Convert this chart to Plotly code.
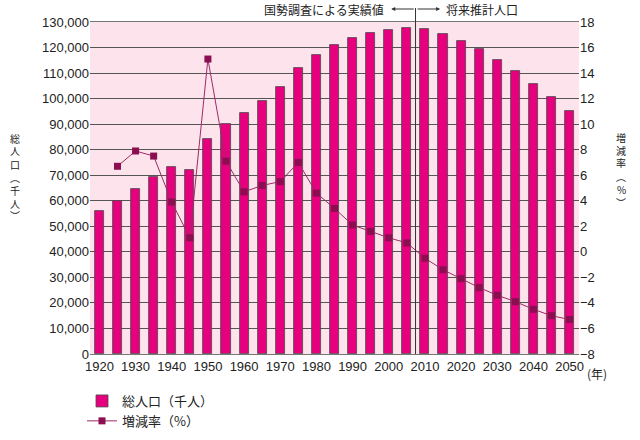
import plotly.graph_objects as go

years = [1920, 1925, 1930, 1935, 1940, 1945, 1950, 1955, 1960, 1965, 1970, 1975, 1980,
         1985, 1990, 1995, 2000, 2005, 2010, 2015, 2020, 2025, 2030, 2035, 2040, 2045, 2050]
population = [55963, 59737, 64450, 69254, 73114, 71998, 84115, 90077, 94302, 99209, 104665,
              111940, 117060, 121049, 123611, 125570, 126926, 127768, 127176, 125430, 122735,
              119270, 115224, 110679, 105695, 100443, 95152]
rate_years = years[1:]
rate = [6.7, 7.9, 7.5, 3.9, 1.1, 15.1, 7.1, 4.7, 5.2, 5.5, 7.0, 4.6, 3.4, 2.1, 1.6, 1.1, 0.7,
        -0.5, -1.4, -2.1, -2.8, -3.4, -3.9, -4.5, -5.0, -5.3]
x_ticks = list(range(1920, 2051, 10))

FONT = "Liberation Sans, Arial, Noto Sans CJK JP, sans-serif"
JP = "Noto Sans CJK JP, sans-serif"

W, H = 640, 440
PL, PR, PT, PB = 90, 579, 22, 354  # plot area in page pixels

fig = go.Figure()
fig.add_trace(go.Bar(
    x=years, y=population, name="総人口（千人）", width=2.5,
    marker=dict(color="#E6007E", line=dict(color="#4a4a4a", width=0.8)),
))
fig.add_trace(go.Scatter(
    x=rate_years, y=rate, name="増減率（%）", yaxis="y2", mode="lines+markers",
    line=dict(color="#9E2A66", width=1),
    marker=dict(symbol="square", size=7, color="#8C0E50"),
))

fig.update_layout(
    width=W, height=H,
    margin=dict(l=PL, r=W - PR, t=PT, b=H - PB, autoexpand=False),
    paper_bgcolor="white", plot_bgcolor="#FCE3EC",
    font=dict(family=FONT, size=13, color="#222"),
    bargap=0,
    xaxis=dict(range=[1917.4, 2052.6], tickvals=x_ticks, showgrid=False,
               showline=True, linecolor="#777", linewidth=1, mirror=True,
               ticks="", tickfont=dict(size=13), zeroline=False),
    yaxis=dict(range=[0, 130000], dtick=10000, tickformat=",", showgrid=True,
               gridcolor="#555", gridwidth=1, zeroline=False, showline=False,
               ticks="", tickfont=dict(size=13)),
    yaxis2=dict(range=[-8, 18], dtick=2, overlaying="y", side="right", showgrid=False,
                zeroline=False, ticks="", tickfont=dict(size=13)),
    legend=dict(xref="container", yref="container", x=82 / W, y=1 - 386 / H,
                xanchor="left", yanchor="top", orientation="v",
                font=dict(family=JP, size=13), bgcolor="rgba(0,0,0,0)", tracegroupgap=2),
    showlegend=True,
)


def px(x):
    return (x - PL) / (PR - PL)


def py(y):
    return (PB - y) / (PB - PT)


# divider between census values and projections
fig.add_shape(type="line", xref="x", yref="paper", x0=2007.4, x1=2007.4, y0=0, y1=py(8),
              line=dict(color="#333", width=1))
fig.add_annotation(xref="x", yref="paper", x=2000.7, y=py(9), ax=24, ay=0, text="",
                   showarrow=True, arrowhead=2, arrowsize=0.8, arrowwidth=1, arrowcolor="#333",
                   standoff=0)
fig.add_annotation(xref="x", yref="paper", x=2014.2, y=py(9), ax=-24, ay=0, text="",
                   showarrow=True, arrowhead=2, arrowsize=0.8, arrowwidth=1, arrowcolor="#333",
                   standoff=0)
fig.add_annotation(xref="x", yref="paper", x=1999.3, y=py(10), text="国勢調査による実績値",
                   showarrow=False, xanchor="right", yanchor="middle",
                   font=dict(family=JP, size=12, color="#222"))
fig.add_annotation(xref="x", yref="paper", x=2015.2, y=py(10), text="将来推計人口",
                   showarrow=False, xanchor="left", yanchor="middle",
                   font=dict(family=JP, size=12, color="#222"))


def vertical_title(chars, x_px, y_start_px, step):
    for i, ch in enumerate(chars):
        fig.add_annotation(xref="paper", yref="paper", x=px(x_px), y=py(y_start_px + i * step),
                           text=ch, showarrow=False, xanchor="center", yanchor="middle",
                           font=dict(family=JP, size=10, color="#222"))


vertical_title(["総", "人", "口", "︵", "千", "人", "︶"], 15, 138, 13)
vertical_title(["増", "減", "率", "︵", "%", "︶"], 621, 137, 13)

fig.add_annotation(xref="paper", yref="paper", x=px(597), y=py(373), text="(年)",
                   showarrow=False, xanchor="center", yanchor="middle",
                   font=dict(family=JP, size=12, color="#222"))

fig.write_html("out.html", config={"displayModeBar": False},
               post_script="document.body.style.margin='0';document.body.style.padding='0';")
